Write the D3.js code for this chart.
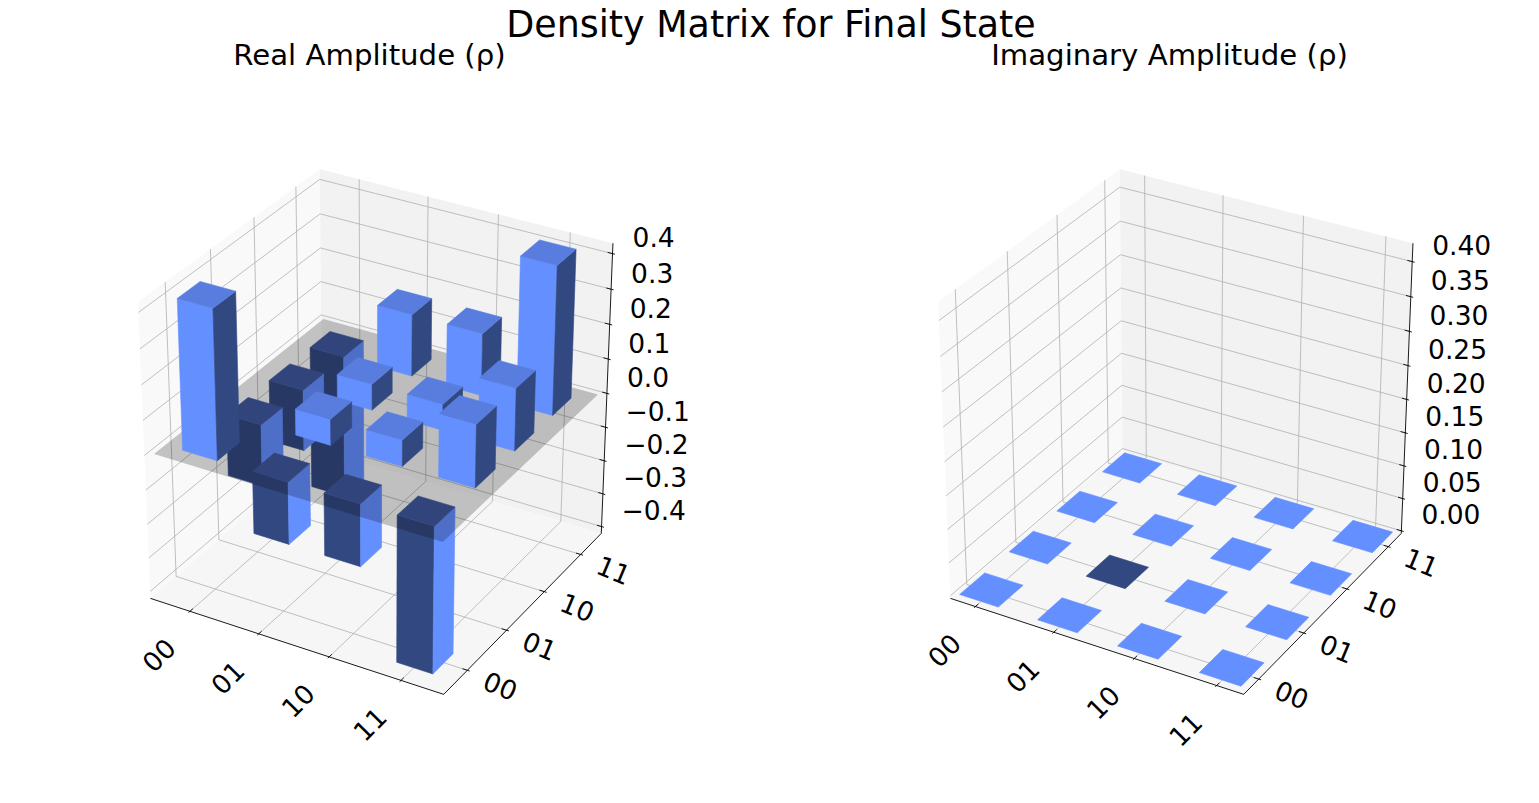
<!DOCTYPE html>
<html>
<head>
<meta charset="utf-8">
<script src="https://cdn.jsdelivr.net/npm/d3@7"></script>
<style>
body { margin: 0; background: #fff; }
text { font-family: "DejaVu Sans", sans-serif; fill: #000; }
</style>
</head>
<body>
<div id="chart"></div>
<script>
// basis states, used on both floor axes
var basis = ["00", "01", "10", "11"];

// real part of rho, row = y index, column = x index
var realRows = [
  [ 0.425, -0.179, -0.179, -0.425],
  [-0.179,  0.075,  0.075,  0.179],
  [-0.179,  0.075,  0.075,  0.179],
  [-0.425,  0.179,  0.179,  0.425]
];

// imaginary part, all (numerically) zero
var imagRows = [
  [0, 0, 0, 0],
  [0, -1e-17, 0, 0],
  [0, 0, 0, 0],
  [0, 0, 0, 0]
];

var realZTicks = [-0.4, -0.3, -0.2, -0.1, 0.0, 0.1, 0.2, 0.3, 0.4];
var imagZTicks = [0.0, 0.05, 0.10, 0.15, 0.20, 0.25, 0.30, 0.35, 0.40];

var width = 1539, height = 803;

var svg = d3.select("#chart").append("svg")
    .attr("width", width)
    .attr("height", height);

// view like matplotlib default: elev 30, azim -60, perspective, dist 10
var elev = 30 * Math.PI / 180,
    azim = -60 * Math.PI / 180,
    camDist = 10,
    S = 3250;

function dot(a, b) { return a[0]*b[0] + a[1]*b[1] + a[2]*b[2]; }
function cross(a, b) {
  return [a[1]*b[2] - a[2]*b[1], a[2]*b[0] - a[0]*b[2], a[0]*b[1] - a[1]*b[0]];
}
function norm(a) { var l = Math.sqrt(dot(a, a)); return [a[0]/l, a[1]/l, a[2]/l]; }

var wv = [Math.cos(elev) * Math.cos(azim), Math.cos(elev) * Math.sin(azim), Math.sin(elev)];
var uv = norm(cross([0, 0, 1], wv));
var vv = cross(wv, uv);

var half = 0.5 * (1 + 1 / 24);   // pane padding of 1/48 each side
var tickVals = basis.map(function (d, i) { return i + 0.5; });

function padded(lim) {
  var p = (lim[1] - lim[0]) / 48;
  return [lim[0] - p, lim[1] + p];
}

function shade(f) {
  var c = d3.rgb("#648fff");
  return d3.rgb(c.r * f, c.g * f, c.b * f).formatHex();
}

function drawPanel(opts) {
  var g = svg.append("g");
  var xPane = padded(opts.xlim), yPane = padded(opts.xlim), zPane = opts.zPane;
  var xScale = d3.scaleLinear().domain(xPane).range([-half, half]);
  var yScale = d3.scaleLinear().domain(yPane).range([-half, half]);
  var zScale = d3.scaleLinear().domain(zPane).range([-half, half]);

  function q(p) { return [xScale(p[0]), yScale(p[1]), zScale(p[2])]; }
  function project(p) {
    var Q = q(p);
    var d = camDist - dot(wv, Q);
    return [opts.cx + S * dot(uv, Q) / d, opts.cy - S * dot(vv, Q) / d];
  }
  function depth(p) { return dot(wv, q(p)); }
  var line = d3.line();
  function path(pts) { return line(pts.map(project)); }
  function poly(pts) { return line(pts.map(project)) + "Z"; }

  var x0 = xPane[0], x1 = xPane[1], y0 = yPane[0], y1 = yPane[1], z0 = zPane[0], z1 = zPane[1];

  // panes
  g.append("path").attr("d", poly([[x0, y0, z0], [x0, y1, z0], [x0, y1, z1], [x0, y0, z1]]))
    .attr("fill", "#f9f9f9");
  g.append("path").attr("d", poly([[x0, y1, z0], [x1, y1, z0], [x1, y1, z1], [x0, y1, z1]]))
    .attr("fill", "#f2f2f2");
  g.append("path").attr("d", poly([[x0, y0, z0], [x1, y0, z0], [x1, y1, z0], [x0, y1, z0]]))
    .attr("fill", "#f6f6f6");

  // grid lines
  var grid = g.append("g").attr("fill", "none").attr("stroke", "#b0b0b0").attr("stroke-width", 0.8);
  tickVals.forEach(function (t) {
    grid.append("path").attr("d", path([[t, y0, z0], [t, y1, z0], [t, y1, z1]]));
    grid.append("path").attr("d", path([[x1, t, z0], [x0, t, z0], [x0, t, z1]]));
  });
  opts.zTicks.forEach(function (t) {
    grid.append("path").attr("d", path([[x0, y0, t], [x0, y1, t], [x1, y1, t]]));
  });

  // axis lines and ticks
  var ax = g.append("g").attr("fill", "none").attr("stroke", "#000").attr("stroke-width", 0.9);
  ax.append("path").attr("d", path([[x0, y0, z0], [x1, y0, z0]]));
  ax.append("path").attr("d", path([[x1, y0, z0], [x1, y1, z0]]));
  ax.append("path").attr("d", path([[x1, y1, z0], [x1, y1, z1]]));
  var dx = (opts.xlim[1] - opts.xlim[0]) / 12, dy = dx;
  tickVals.forEach(function (t) {
    ax.append("path").attr("d", path([[t, y0 - 0.1 * dy, z0], [t, y0 + 0.2 * dy, z0]]));
    ax.append("path").attr("d", path([[x1 + 0.1 * dx, t, z0], [x1 - 0.2 * dx, t, z0]]));
  });
  opts.zTicks.forEach(function (t) {
    ax.append("path").attr("d", path([[x1 + 0.1 * dx, y1, t], [x1 - 0.2 * dx, y1, t]]));
  });

  // tick labels
  var fs = 26.5;
  tickVals.forEach(function (t, i) {
    var p = project([t, y0, z0]);
    var lx = p[0] - 31, ly = p[1] + 44;
    g.append("text").attr("x", lx).attr("y", ly)
      .attr("text-anchor", "middle").attr("dominant-baseline", "central")
      .attr("font-size", fs)
      .attr("transform", "rotate(-45," + lx + "," + ly + ")")
      .text(basis[i]);
    var r = project([x1, t, z0]);
    var rx = r[0] + 33, ry = r[1] + 16;
    g.append("text").attr("x", rx).attr("y", ry)
      .attr("text-anchor", "middle").attr("dominant-baseline", "central")
      .attr("font-size", fs)
      .attr("transform", "rotate(22.5," + rx + "," + ry + ")")
      .text(basis[i]);
  });
  opts.zTicks.forEach(function (t) {
    var p = project([x1, y1, t]);
    g.append("text").attr("x", p[0] + 20).attr("y", p[1] - 16)
      .attr("dominant-baseline", "central")
      .attr("font-size", fs)
      .text(opts.zFormat(t));
  });

  // title
  g.append("text").attr("x", opts.cx - 10).attr("y", 65)
    .attr("text-anchor", "middle").attr("font-size", 29.2)
    .text(opts.title);

  // bars
  var bars = [];
  opts.values.forEach(function (row, j) {
    row.forEach(function (v, i) {
      bars.push({i: i, j: j, v: v});
    });
  });
  var flat = bars.every(function (b) { return Math.abs(b.v) < 1e-9; });

  function drawBar(layer, b) {
    var bx0 = b.i + 0.25, bx1 = b.i + 0.75, by0 = b.j + 0.25, by1 = b.j + 0.75;
    var zb = Math.min(0, b.v), zt = Math.max(0, b.v);
    var bg = layer.append("g");
    var faces;
    if (flat) {
      // zero height: only the top or the bottom face shows
      faces = [{pts: [[bx0, by0, 0], [bx1, by0, 0], [bx1, by1, 0], [bx0, by1, 0]],
                c: b.v < 0 ? shade(0.5) : shade(1.0)}];
    } else {
      var pos = b.v >= 0;
      faces = [
        {pts: [[bx0, by0, zb], [bx1, by0, zb], [bx1, by0, zt], [bx0, by0, zt]], c: shade(pos ? 1.0 : 0.5)},
        {pts: [[bx1, by0, zb], [bx1, by1, zb], [bx1, by1, zt], [bx1, by0, zt]], c: shade(pos ? 0.5 : 1.0)},
        {pts: [[bx0, by0, zt], [bx1, by0, zt], [bx1, by1, zt], [bx0, by1, zt]], c: shade(pos ? 0.875 : 0.625)}
      ];
    }
    faces.forEach(function (f) {
      bg.append("path").attr("d", poly(f.pts))
        .attr("fill", f.c).attr("stroke", f.c).attr("stroke-width", 0.6)
        .attr("stroke-linejoin", "round");
    });
  }
  function key(b) { return depth([b.i + 0.5, b.j + 0.5, b.v / 2]); }

  var neg = bars.filter(function (b) { return b.v < 0 && !flat; }).sort(function (a, b) { return key(a) - key(b); });
  var posb = bars.filter(function (b) { return flat || b.v >= 0; }).sort(function (a, b) { return key(a) - key(b); });

  var barLayer = g.append("g");
  neg.forEach(function (b) { drawBar(barLayer, b); });

  var vals = bars.map(function (b) { return b.v; });
  if (!flat && d3.min(vals) < 0 && d3.max(vals) > 0) {
    var L = opts.xlim;
    barLayer.append("path")
      .attr("d", poly([[L[0], L[0], 0], [L[1], L[0], 0], [L[1], L[1], 0], [L[0], L[1], 0]]))
      .attr("fill", "#000").attr("fill-opacity", 0.22);
  }
  posb.forEach(function (b) { drawBar(barLayer, b); });
}

drawPanel({
  cx: 379.5, cy: 422.5,
  xlim: [0, 4],
  zPane: [-0.421, 0.429],
  zTicks: realZTicks,
  zFormat: d3.format(".1f"),
  values: realRows,
  title: "Real Amplitude (\u03c1)"
});

drawPanel({
  cx: 1179.5, cy: 422.5,
  xlim: [0.25, 3.75],
  zPane: [-0.004, 0.426],
  zTicks: imagZTicks,
  zFormat: d3.format(".2f"),
  values: imagRows,
  title: "Imaginary Amplitude (\u03c1)"
});

svg.append("text")
  .attr("x", 771).attr("y", 37)
  .attr("text-anchor", "middle")
  .attr("font-size", 36.4)
  .text("Density Matrix for Final State");
</script>
</body>
</html>
